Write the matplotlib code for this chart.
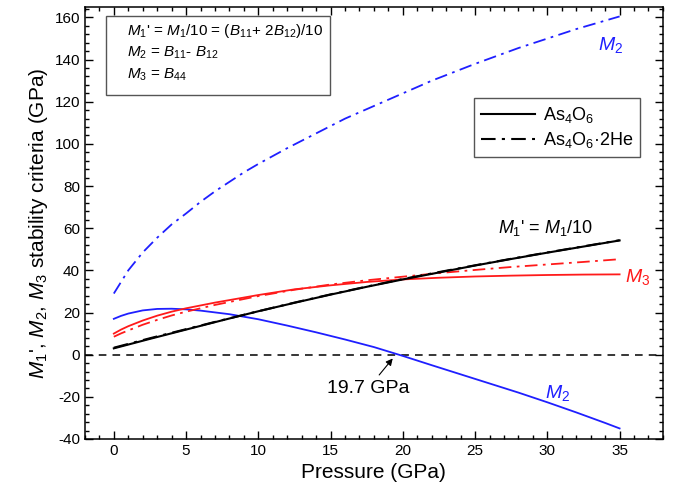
import matplotlib
matplotlib.use("Agg")
import matplotlib.pyplot as plt
from matplotlib.patches import Rectangle
from matplotlib.ticker import MultipleLocator

plt.rcParams['font.family'] = ['Liberation Sans', 'DejaVu Sans']
plt.rcParams['mathtext.fontset'] = 'custom'
plt.rcParams['mathtext.rm'] = 'Liberation Sans'
plt.rcParams['mathtext.it'] = 'Liberation Sans:italic'
plt.rcParams['axes.unicode_minus'] = False

# M2 = B11 - B12
p_m2 = [0, 0.5, 1, 2, 3, 4, 5, 6, 8, 10, 12, 14, 16, 18, 20, 22, 25, 28, 30, 32, 34, 35]
m2_pure = [17, 18.4, 19.5, 21, 21.7, 21.8, 21.5, 20.9, 19.2, 16.8, 13.8, 10.6, 7.2, 3.6,
           -0.6, -5, -11.5, -18, -22.6, -27.4, -32.4, -35]
p_m2he = [0, 1, 2, 3, 4, 5, 6, 7, 8, 9, 10, 12, 14, 16, 18, 20, 22, 25, 28, 30, 32, 35]
m2_he = [29, 40, 48.5, 55.5, 61.8, 67, 72.5, 77.5, 82, 86.5, 90.5, 98, 105, 112, 118,
         124, 130, 138, 145.5, 150, 154.5, 160.5]

# M1' = M1/10
p_m1 = [0, 2.5, 5, 7.5, 10, 12.5, 15, 17.5, 20, 22.5, 25, 27.5, 30, 32.5, 35]
m1_pure = [3, 7.5, 11.9, 16.3, 20.6, 24.6, 28.5, 32.2, 35.7, 39.0, 42.3, 45.4, 48.4, 51.3, 54.2]
m1_he = [3.3, 7.8, 12.1, 16.4, 20.6, 24.7, 28.6, 32.3, 35.9, 39.2, 42.4, 45.5, 48.5, 51.4, 54.3]

# M3 = B44
p_m3 = [0, 0.5, 1, 2, 3, 4, 5, 7, 10, 12.5, 15, 17.5, 20, 22.5, 25, 27.5, 30, 32.5, 35]
m3_pure = [10, 11.9, 13.5, 16.2, 18.5, 20.4, 22, 24.7, 28.3, 31, 32.9, 34.5, 35.7, 36.5,
           37.1, 37.5, 37.8, 38, 38.1]
m3_he = [8.5, 10.1, 11.5, 14.2, 16.5, 18.6, 20.4, 23.6, 27.8, 30.8, 33.3, 35.3, 37.0, 38.7,
         40.2, 41.6, 42.8, 44.0, 45.3]

dashdot = (0, (7, 3, 1.5, 3))
blue = '#1f1fff'
red = '#ff1a1a'

fig = plt.figure(figsize=(6.74, 4.96), dpi=100)
ax = fig.add_axes([0.126, 0.115, 0.8576, 0.871])

ax.axhline(0, color='k', ls=(0, (5, 4)), lw=1.1)

ax.plot(p_m2, m2_pure, color=blue, lw=1.3)
ax.plot(p_m2he, m2_he, color=blue, lw=1.3, ls=dashdot)
ax.plot(p_m3, m3_pure, color=red, lw=1.3)
ax.plot(p_m3, m3_he, color=red, lw=1.3, ls=dashdot)
ax.plot(p_m1, m1_pure, color='k', lw=1.5, label='As$_4$O$_6$')
ax.plot(p_m1, m1_he, color='k', lw=1.5, ls=dashdot, label='As$_4$O$_6$·2He')

ax.set_xlim(-2, 38)
ax.set_ylim(-40, 165)
ax.xaxis.set_major_locator(MultipleLocator(5))
ax.xaxis.set_minor_locator(MultipleLocator(1))
ax.yaxis.set_major_locator(MultipleLocator(20))
ax.yaxis.set_minor_locator(MultipleLocator(4))
ax.tick_params(which='both', direction='in', top=True, right=True, labelsize=11)
ax.tick_params(which='major', length=6, width=1)
ax.tick_params(which='minor', length=3, width=1)
for s in ax.spines.values():
    s.set_linewidth(1.1)

ax.set_xlabel('Pressure (GPa)', fontsize=15, labelpad=4)
ax.set_ylabel("$M_1$', $M_2$, $M_3$ stability criteria (GPa)", fontsize=15, labelpad=3)

# definitions box
ax.add_patch(Rectangle((-0.52, 123.3), 15.46, 37.2, fill=False, ec='#555555', lw=1))
ax.text(0.93, 153.8, "$M_1$' = $M_1$/10 = ($B_{11}$+ 2$B_{12}$)/10", fontsize=11, va='center')
ax.text(0.93, 143.3, "$M_2$ = $B_{11}$- $B_{12}$", fontsize=11, va='center')
ax.text(0.93, 132.9, "$M_3$ = $B_{44}$", fontsize=11, va='center')

leg = ax.legend(loc='upper left', bbox_to_anchor=(0.673, 0.789), borderaxespad=0,
                fontsize=13, handlelength=3.0, handletextpad=0.4, fancybox=False,
                framealpha=1, edgecolor='#555555', borderpad=0.4, labelspacing=0.25)
leg.get_frame().set_linewidth(1)

# curve labels
ax.text(29.9, 60, "$M_1$' = $M_1$/10", fontsize=13, ha='center', va='center')
ax.text(35.4, 37, "$M_3$", fontsize=14, color=red, ha='left', va='center')
ax.text(33.5, 147, "$M_2$", fontsize=14, color=blue, ha='left', va='center')
ax.text(30.7, -18, "$M_2$", fontsize=14, color=blue, ha='center', va='center')

ax.annotate('19.7 GPa', xy=(19.3, -1.8), xytext=(17.6, -16), fontsize=14,
            ha='center', va='center',
            arrowprops=dict(arrowstyle='-|>', color='k', lw=0.8, mutation_scale=10,
                            shrinkA=2, shrinkB=0))

fig.savefig('out.png', dpi=100)
